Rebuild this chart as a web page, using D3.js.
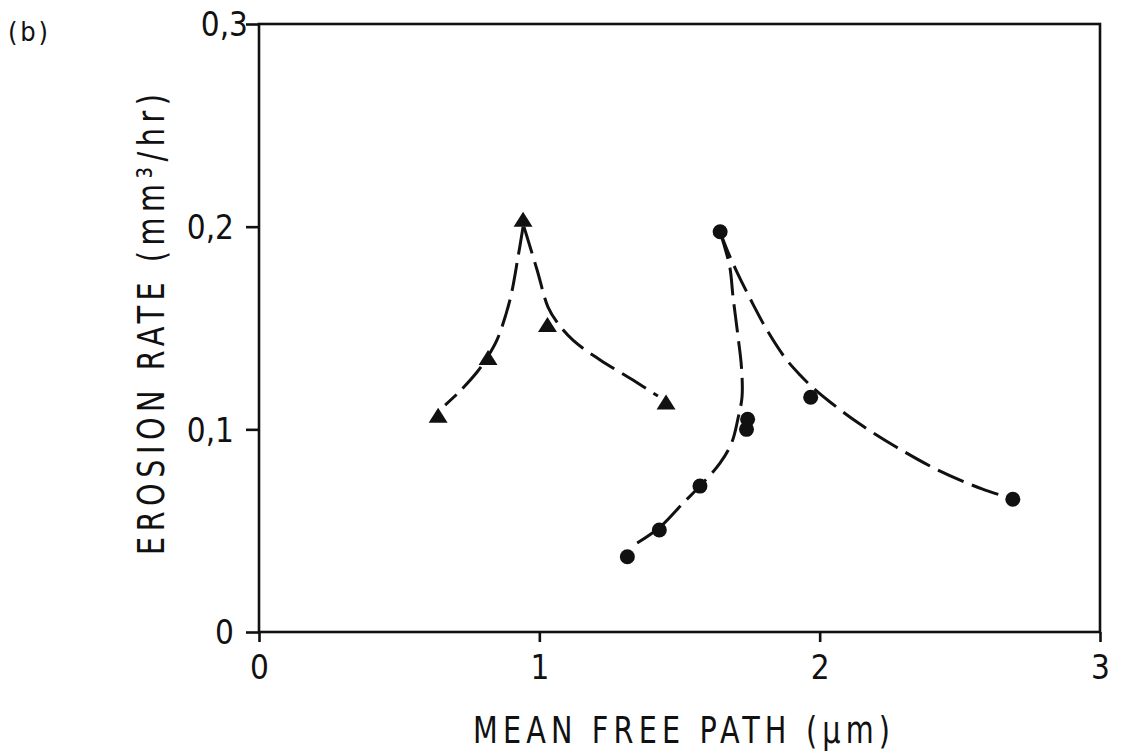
<!DOCTYPE html>
<html>
<head>
<meta charset="utf-8">
<script src="https://cdn.jsdelivr.net/npm/d3@7"></script>
<style>
  html, body { margin: 0; padding: 0; background: #fff; }
  svg { display: block; }
  text { font-family: "DejaVu Sans Condensed", "DejaVu Sans", sans-serif; font-stretch: condensed; fill: #111; }
</style>
</head>
<body>
<svg id="chart" width="1121" height="754"></svg>
<script>
// Measured erosion rates (mm^3/hr) against mean free path (µm)
const triX = [0.639, 0.817, 0.942, 1.029, 1.452];
const triY = [0.107, 0.1354, 0.2037, 0.1517, 0.1135];

const dotX = [1.645, 1.968, 1.743, 1.739, 1.573, 1.428, 1.314, 2.689];
const dotY = [0.1975, 0.1158, 0.105, 0.100, 0.072, 0.0503, 0.0371, 0.0655];

// Hand-drawn trend curves, traced point by point
const triLeftX  = [0.942, 0.924, 0.895, 0.849, 0.813, 0.778, 0.710, 0.664];
const triLeftY  = [0.2000, 0.1850, 0.1638, 0.1441, 0.1352, 0.1283, 0.1179, 0.1120];
const triRightX = [0.945, 0.953, 0.992, 1.031, 1.063, 1.120, 1.217, 1.334, 1.423];
const triRightY = [0.2000, 0.1964, 0.1786, 0.1603, 0.1529, 0.1440, 0.1342, 0.1243, 0.1164];

const dotLeftX  = [1.645, 1.659, 1.680, 1.691, 1.709, 1.721, 1.723, 1.709, 1.687, 1.645, 1.573, 1.513, 1.427, 1.349];
const dotLeftY  = [0.1974, 0.1910, 0.1796, 0.1653, 0.1455, 0.1307, 0.1159, 0.1056, 0.0937, 0.0834, 0.0720, 0.0636, 0.0513, 0.0439];
const dotRightX = [1.645, 1.670, 1.705, 1.762, 1.812, 1.877, 1.930, 1.977, 2.037, 2.133, 2.273, 2.422, 2.579, 2.679];
const dotRightY = [0.1974, 0.1885, 0.1776, 0.1618, 0.1490, 0.1352, 0.1268, 0.1204, 0.1135, 0.1036, 0.0913, 0.0799, 0.0706, 0.0661];

const xTicks = [0, 1, 2, 3];
const xTickLabels = ["0", "1", "2", "3"];
const yTicks = [0, 0.1, 0.2, 0.3];
const yTickLabels = ["0", "0,1", "0,2", "0,3"];

const panelLabel = "(b)";
const xTitle = "MEAN  FREE PATH (\u00b5m)";
const yTitle = "EROSION  RATE  (mm\u00b3/hr)";

const svg = d3.select("#chart");
const W = 1121, H = 754;
const m = { left: 259, right: 1100, top: 24, bottom: 632 };

svg.append("rect").attr("width", W).attr("height", H).attr("fill", "#fff");

const x = d3.scaleLinear().domain([0, 3]).range([m.left, m.right]);
const y = d3.scaleLinear().domain([0, 0.3]).range([m.bottom, m.top]);

const ink = "#111";

// Frame
svg.append("rect")
  .attr("x", m.left).attr("y", m.top)
  .attr("width", m.right - m.left).attr("height", m.bottom - m.top)
  .attr("fill", "none").attr("stroke", ink).attr("stroke-width", 2.6);

// Axes (ticks outside the frame)
const xAxis = d3.axisBottom(x).tickValues(xTicks)
  .tickFormat((d, i) => xTickLabels[i]).tickSize(10).tickPadding(14);
const gx = svg.append("g").attr("transform", `translate(0,${m.bottom})`).call(xAxis);
gx.select(".domain").remove();
gx.selectAll("line").attr("stroke", ink).attr("stroke-width", 2.6);
gx.selectAll("text").attr("font-size", 33).attr("font-family", null).attr("fill", ink);

const yAxis = d3.axisLeft(y).tickValues(yTicks)
  .tickFormat((d, i) => yTickLabels[i]).tickSize(13).tickPadding(12);
const gy = svg.append("g").attr("transform", `translate(${m.left},0)`).call(yAxis);
gy.select(".domain").remove();
gy.selectAll("line").attr("stroke", ink).attr("stroke-width", 2.6);
gy.selectAll("text").attr("font-size", 33).attr("font-family", null).attr("fill", ink)
  .attr("dy", "0.36em");
// top label sits tight against its tick
gy.selectAll(".tick").filter(d => d === 0.3).select("text").attr("x", -11);

// Dashed trend curves
const line = d3.line().x(d => x(d[0])).y(d => y(d[1])).curve(d3.curveCatmullRom.alpha(0.5));
const curves = [
  d3.zip(triLeftX, triLeftY),
  d3.zip(triRightX, triRightY),
  d3.zip(dotLeftX, dotLeftY),
  d3.zip(dotRightX, dotRightY)
];
svg.append("g").selectAll("path").data(curves).join("path")
  .attr("d", line)
  .attr("fill", "none").attr("stroke", ink).attr("stroke-width", 3)
  .attr("stroke-dasharray", "28 9");

// Triangle markers
const triPath = "M0,-7.5L9.5,7.5L-9.5,7.5Z";
svg.append("g").selectAll("path").data(d3.zip(triX, triY)).join("path")
  .attr("d", triPath)
  .attr("transform", d => `translate(${x(d[0])},${y(d[1])})`)
  .attr("fill", ink);

// Circle markers
svg.append("g").selectAll("circle").data(d3.zip(dotX, dotY)).join("circle")
  .attr("cx", d => x(d[0])).attr("cy", d => y(d[1])).attr("r", 7.5)
  .attr("fill", ink);

// Titles: narrow stencil-like lettering with open spacing
const squeeze = 0.84;
svg.append("text").attr("x", 8).attr("y", 41).attr("font-size", 27)
  .attr("textLength", 40).attr("lengthAdjust", "spacing").text(panelLabel);

svg.append("text")
  .attr("transform", `translate(473,743) scale(${squeeze},1)`)
  .attr("font-size", 38)
  .attr("textLength", 417 / squeeze).attr("lengthAdjust", "spacing")
  .text(xTitle);

svg.append("text")
  .attr("transform", `translate(164,555) rotate(-90) scale(${squeeze},1)`)
  .attr("font-size", 38)
  .attr("textLength", 461 / squeeze).attr("lengthAdjust", "spacing")
  .text(yTitle);
</script>
</body>
</html>
